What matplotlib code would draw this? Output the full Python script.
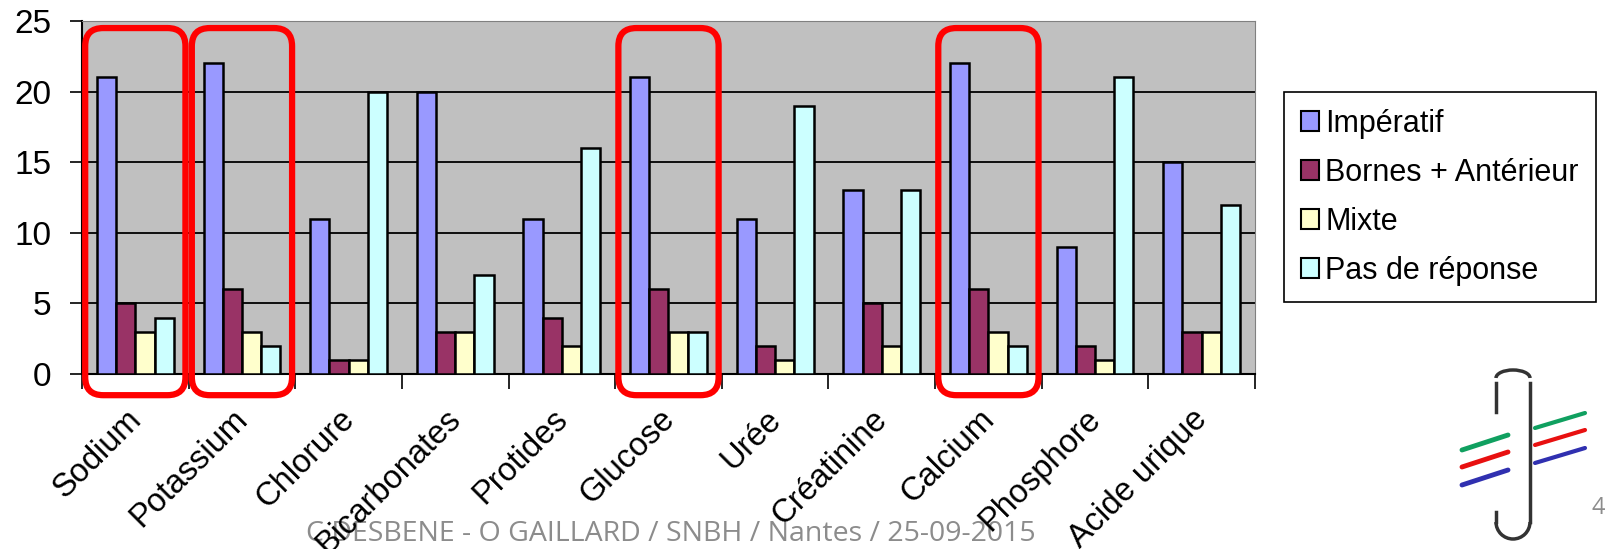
import numpy as np
import matplotlib
matplotlib.use("Agg")
import matplotlib.pyplot as plt
from matplotlib.patches import FancyBboxPatch, Arc
from matplotlib.transforms import IdentityTransform, ScaledTranslation

plt.rcParams['font.family'] = ['Liberation Sans', 'DejaVu Sans']

# data
categories = ['Sodium', 'Potassium', 'Chlorure', 'Bicarbonates', 'Protides', 'Glucose',
              'Urée', 'Créatinine', 'Calcium', 'Phosphore', 'Acide urique']
imperatif = [21, 22, 11, 20, 11, 21, 11, 13, 22, 9, 15]
bornes = [5, 6, 1, 3, 4, 6, 2, 5, 6, 2, 3]
mixte = [3, 3, 1, 3, 2, 3, 1, 2, 3, 1, 3]
pas_reponse = [4, 2, 20, 7, 16, 3, 19, 13, 2, 21, 12]
series_names = ['Impératif', 'Bornes + Antérieur', 'Mixte', 'Pas de réponse']
highlighted = ['Sodium', 'Potassium', 'Glucose', 'Calcium']
footer = 'C DESBENE - O GAILLARD / SNBH / Nantes / 25-09-2015'
page_num = '4'

colors = ['#9999FF', '#993366', '#FFFFCC', '#CCFFFF']
series = [imperatif, bornes, mixte, pas_reponse]

W, H = 1612, 549
fig = plt.figure(figsize=(W / 100, H / 100), dpi=100)
ax = fig.add_axes([82 / W, 1 - 374 / H, (1255 - 82) / W, (374 - 21) / H])
ax.set_facecolor('#C0C0C0')

x = np.arange(len(categories))
bw = 0.18
for k, (vals, c, name) in enumerate(zip(series, colors, series_names)):
    ax.bar(x + (k - 1.5) * bw, vals, bw, color=c, edgecolor='black', linewidth=1.8,
           label=name, zorder=3)

ax.set_xlim(-0.5, len(categories) - 0.5)
ax.set_ylim(0, 25)
ax.set_yticks([0, 5, 10, 15, 20, 25])
for yv in [5, 10, 15, 20]:
    ax.axhline(yv, color='black', linewidth=1.3, zorder=1)

ax.tick_params(axis='y', direction='out', length=9, width=1.2, pad=13, labelsize=24)
ax.set_xticks(x)
ax.set_xticklabels(categories, rotation=45, ha='right', va='top',
                   rotation_mode='anchor', fontsize=23.5)
ax.tick_params(axis='x', which='major', length=0, pad=21.5)
ax.set_xticks(np.arange(len(categories) + 1) - 0.5, minor=True)
ax.tick_params(axis='x', which='minor', direction='out', length=11, width=1.2)
off = ScaledTranslation(-7.2 / 72, 0, fig.dpi_scale_trans)
for lab in ax.get_xticklabels():
    lab.set_transform(lab.get_transform() + off)

ax.spines['left'].set_color('black')
ax.spines['left'].set_linewidth(1.5)
ax.spines['bottom'].set_color('black')
ax.spines['bottom'].set_linewidth(1.5)
ax.spines['top'].set_color('#808080')
ax.spines['right'].set_color('#808080')

leg = fig.legend(loc='upper left', bbox_to_anchor=(1284 / W, 1 - 92 / H), fontsize=22,
                 frameon=True, fancybox=False, edgecolor='black', framealpha=1,
                 handlelength=0.6, handleheight=0.6, handletextpad=0.2,
                 labelspacing=0.62, borderpad=0.55, borderaxespad=0)
leg.get_frame().set_linewidth(1.2)
for h in leg.legend_handles:
    h.set_linewidth(1.5)

# red rounded boxes around highlighted groups (pixel space from data transform)
for name in highlighted:
    i = categories.index(name)
    (x0, y0) = ax.transData.transform((i - 0.47, -1.5))
    (x1, y1) = ax.transData.transform((i + 0.47, 24.5))
    box = FancyBboxPatch((x0, y0), x1 - x0, y1 - y0,
                         boxstyle='round,pad=0,rounding_size=18',
                         transform=IdentityTransform(), fill=False,
                         edgecolor='#FF0000', linewidth=4.5, zorder=10)
    fig.patches.append(box)

# overlay in pixel coords for footer and logo
ov = fig.add_axes([0, 0, 1, 1], zorder=-1)
ov.set_xlim(0, W)
ov.set_ylim(H, 0)
ov.axis('off')
ov.text(306, 541, footer, fontsize=20.5, color='#8C8C8C', family=['Open Sans', 'DejaVu Sans'],
        ha='left', va='baseline')
ov.text(1591, 514, page_num, fontsize=17, color='#8C8C8C', family=['Open Sans', 'DejaVu Sans'],
        ha='left', va='baseline')

# logo: test tube with coloured strokes
ov.plot([1530, 1530], [383, 522], color='#333333', lw=2.5)
ov.plot([1496, 1496], [383, 412], color='#333333', lw=2.5)
ov.plot([1496, 1496], [512, 522], color='#333333', lw=2.5)
ov.add_patch(Arc((1513, 522), 34, 34, theta1=0, theta2=180, color='#333333', lw=2.5))
ov.add_patch(Arc((1513, 378), 34, 16, theta1=180, theta2=360, color='#333333', lw=2.5))
for yy, c in [(0, '#10A060'), (17, '#E81010'), (35, '#3030B0')]:
    ov.plot([1462, 1508], [450 + yy, 435 + yy], color=c, lw=3.5, solid_capstyle='round')
    ov.plot([1535, 1585], [428 + yy, 413 + yy], color=c, lw=3, solid_capstyle='round')

fig.savefig('out.png', dpi=100)
